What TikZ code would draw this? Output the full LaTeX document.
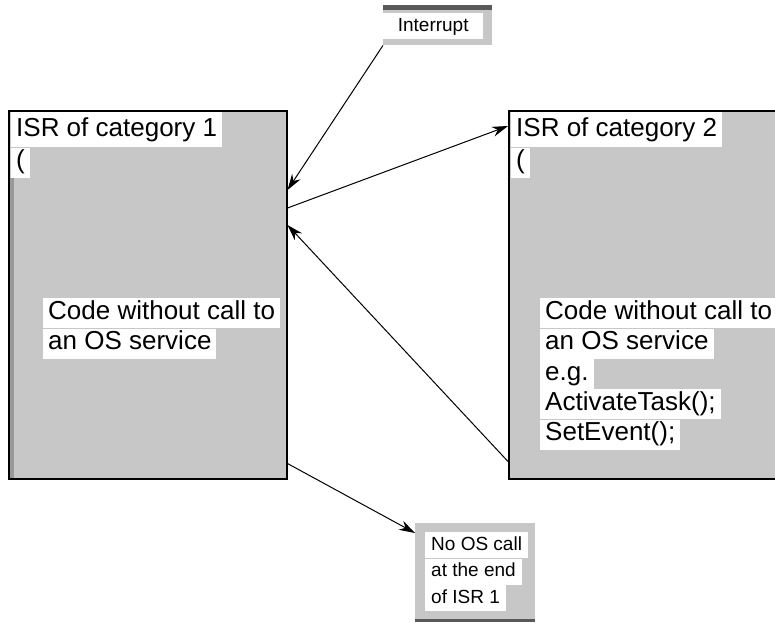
\documentclass[tikz,border=0pt]{standalone}
\usepackage{fontspec}
\setmainfont{Liberation Sans}
\usetikzlibrary{positioning,arrows.meta}

\begin{document}
\begin{tikzpicture}[x=1pt, y=-1pt, >={Stealth[length=16pt,width=10pt]},
    shaded/.style={fill=black!22},
    isrbox/.style={shaded, draw=black, line width=1.5pt, minimum height=368pt, inner sep=0pt, anchor=north west},
    bigline/.style={fill=white, font=\fontsize{26}{30}\selectfont, inner xsep=5pt, inner ysep=0pt, text height=21pt, text depth=9pt, anchor=north west},
    smallline/.style={fill=white, font=\fontsize{19}{24}\selectfont, inner xsep=6pt, inner ysep=0pt, text height=18pt, text depth=8pt, anchor=north west},
    link/.style={->, line width=1pt}]

    \useasboundingbox (0,0) rectangle (775,622);

    % The two ISR boxes
    \node[isrbox, minimum width=278pt] (isr1) at (8,110) {};
    \node[isrbox, minimum width=290pt] (isr2) at (508,110) {};
    \fill[black!40] ([shift={(1.5pt,-68pt)}]isr1.north west) rectangle ([shift={(6pt,1.5pt)}]isr1.south west);

    % Lines of text in the left box
    \node[bigline, text height=24pt, text depth=11pt] (head1) at ([shift={(3pt,-2pt)}]isr1.north west) {ISR of category 1};
    \node[bigline] (paren1) at (head1.south west) {(};
    \node[bigline] (code1a) at ([shift={(35pt,-188pt)}]isr1.north west) {Code without call to};
    \node[bigline] (code1b) at (code1a.south west) {an OS service};

    % Lines of text in the right box
    \node[bigline, text height=24pt, text depth=11pt] (head2) at ([shift={(3pt,-2pt)}]isr2.north west) {ISR of category 2};
    \node[bigline] (paren2) at (head2.south west) {(};
    \node[bigline] (code2a) at ([shift={(32pt,-188pt)}]isr2.north west) {Code without call to};
    \node[bigline] (code2b) at (code2a.south west) {an OS service};
    \node[bigline] (code2c) at (code2b.south west) {e.g.};
    \node[bigline] (code2d) at (code2c.south west) {ActivateTask();};
    \node[bigline] (code2e) at (code2d.south west) {SetEvent();};

    % Interrupt box at the top
    \node[shaded, minimum width=109pt, minimum height=38pt, inner sep=0pt, anchor=north west] (intr) at (383,7) {};
    \draw[black!65, line width=5pt] (intr.north west) -- (intr.north east);
    \node[smallline, minimum width=100pt] (intrtext) at ([yshift=-6pt]intr.north west) {Interrupt};

    % Note box at the bottom
    \node[shaded, minimum width=120pt, minimum height=97pt, inner sep=0pt, anchor=north west] (nocall) at (415,523) {};
    \draw[black!65, line width=3pt] (nocall.south west) -- (nocall.south east);
    \node[smallline] (nc1) at ([shift={(10pt,-9pt)}]nocall.north west) {No OS call};
    \node[smallline] (nc2) at (nc1.south west) {at the end};
    \node[smallline] (nc3) at (nc2.south west) {of ISR 1};

    % Arrows between the boxes
    \draw[link] (intr.south west) -- ([yshift=-80pt]isr1.north east);
    \draw[link] ([yshift=-98pt]isr1.north east) -- ([yshift=-16pt]isr2.north west);
    \draw[link] ([yshift=18pt]isr2.south west) -- ([yshift=-115pt]isr1.north east);
    \draw[link] ([yshift=16pt]isr1.south east) -- ([yshift=-10pt]nocall.north west);

\end{tikzpicture}
\end{document}
